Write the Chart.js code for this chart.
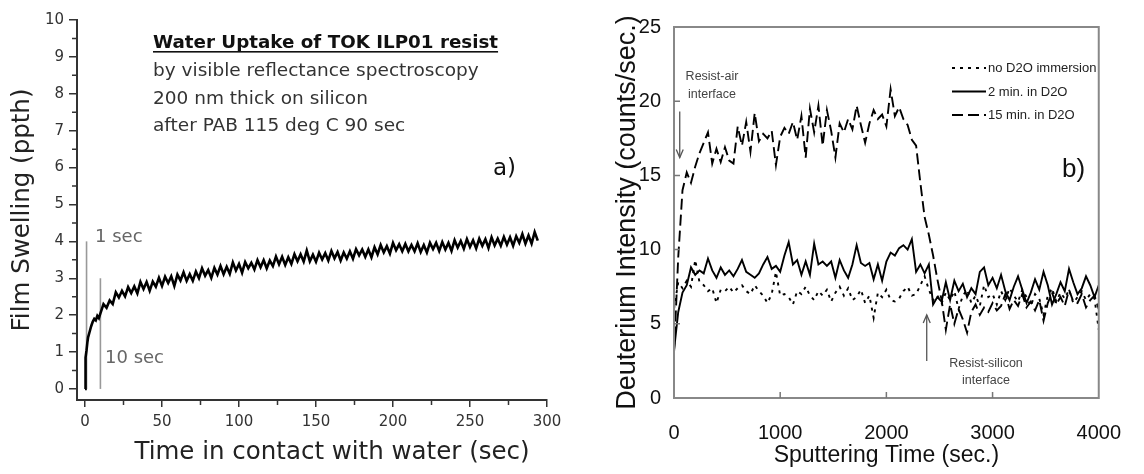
<!DOCTYPE html>
<html><head><meta charset="utf-8">
<script src="https://cdn.jsdelivr.net/npm/chart.js@4.4.1/dist/chart.umd.min.js"></script>
<style>
html,body{margin:0;padding:0;background:#fff;width:1144px;height:474px;overflow:hidden;}
#a{position:absolute;left:0;top:0;}
#b{position:absolute;left:580px;top:0;}
</style></head><body>
<canvas id="a" width="570" height="474"></canvas>
<canvas id="b" width="564" height="474"></canvas>
<script>
// ---------- panel a) data ----------
const swellTime = [0,0.2,0.5,1,1.5,2,3,4,5,6,7,8,9,10,
12,14,16,18,20,22,24,26,28,30,32,34,36,38,40,42,44,46,48,50,
52,54,56,58,60,62,64,66,68,70,72,74,76,78,80,82,84,86,88,90,
92,94,96,98,100,102,104,106,108,110,112,114,116,118,120,122,124,126,128,130,
132,134,136,138,140,142,144,146,148,150,152,154,156,158,160,162,164,166,168,170,
172,174,176,178,180,182,184,186,188,190,192,194,196,198,200,202,204,206,208,210,
212,214,216,218,220,222,224,226,228,230,232,234,236,238,240,242,244,246,248,250,
252,254,256,258,260,262,264,266,268,270,272,274,276,278,280,282,284,286,288,290,292,294];
const swellValue = [0.0,0.4,0.85,1.05,1.25,1.4,1.55,1.7,1.82,1.9,1.86,1.98,1.92,2.05,
2.30,2.20,2.40,2.30,2.62,2.48,2.66,2.51,2.76,2.60,
2.78,2.59,2.90,2.71,2.90,2.66,2.91,2.77,3.01,2.79,
3.04,2.87,3.05,2.79,3.10,2.94,3.16,2.93,3.11,2.93,
3.18,3.00,3.27,3.07,3.22,3.01,3.28,3.10,3.33,3.11,
3.31,3.12,3.43,3.21,3.39,3.15,3.44,3.27,3.42,3.24,
3.49,3.30,3.49,3.27,3.48,3.33,3.59,3.38,3.58,3.36,
3.57,3.39,3.65,3.46,3.65,3.45,3.75,3.46,3.64,3.45,
3.69,3.51,3.68,3.48,3.74,3.54,3.71,3.48,3.70,3.53,
3.73,3.53,3.79,3.62,3.78,3.58,3.78,3.57,3.84,3.65,
3.90,3.70,3.87,3.67,3.96,3.76,3.92,3.73,3.93,3.73,
3.90,3.73,3.95,3.71,3.90,3.70,3.96,3.79,3.96,3.74,
3.98,3.78,3.96,3.74,4.03,3.83,4.01,3.80,4.06,3.85,
4.03,3.81,4.07,3.88,4.06,3.82,4.11,3.89,4.07,3.88,
4.12,3.91,4.11,3.88,4.14,3.96,4.20,3.94,4.16,3.94,
4.25,4.02];
const markerTime = [1, 10];
const markerTop = [4, 3];
const markerLabels = ['1 sec', '10 sec'];
const swellXTicks = [0,50,100,150,200,250,300];
const swellXMinor = [25,75,125,175,225,275];
const swellYTicks = [0,1,2,3,4,5,6,7,8,9,10];
const swellYMinor = [0.5,1.5,2.5,3.5,4.5,5.5,6.5,7.5,8.5,9.5];
const swellTitle = 'Water Uptake of TOK ILP01 resist';
const swellNotes = ['by visible reflectance spectroscopy','200 nm thick on silicon','after PAB 115 deg C 90 sec'];

// ---------- panel b) data ----------
const sputterTime = [0,40,80,120,160,200,240,280,320,360,
400,440,480,520,560,600,640,680,720,760,
800,840,880,920,960,1000,1040,1080,1120,1160,
1200,1240,1280,1320,1360,1400,1440,1480,1520,1560,
1600,1640,1680,1720,1760,1800,1840,1880,1920,1960,
2000,2040,2080,2120,2160,2200,2240,2280,2320,2360,
2400,2440,2480,2520,2560,2600,2640,2680,2720,2760,
2800,2840,2880,2920,2960,3000,3040,3080,3120,3160,
3200,3240,3280,3320,3360,3400,3440,3480,3520,3560,
3600,3640,3680,3720,3760,3800,3840,3880,3920,3960,4000];
const noD2O = [6.0,7.8,7.4,7.9,7.5,9.3,7.8,7.6,7.2,7.4,
6.4,7.3,7.2,7.5,7.1,7.4,7.6,7.2,7.0,7.6,
7.2,6.9,6.4,7.0,8.5,6.9,7.0,6.8,6.3,7.2,
7.0,7.5,6.9,6.6,7.2,6.9,7.3,6.5,7.1,7.5,
6.9,7.4,6.6,6.8,7.3,6.4,6.9,5.4,7.1,6.8,
7.3,6.6,6.5,6.7,7.2,7.5,6.9,7.0,7.6,8.2,
7.3,6.6,6.9,6.4,7.1,6.6,7.2,6.0,6.9,7.3,
6.4,6.9,6.2,7.6,6.8,7.0,6.3,7.2,6.6,7.4,
6.9,6.5,7.3,6.8,6.2,7.0,6.7,5.6,6.9,7.4,
6.5,7.1,6.7,7.3,6.4,6.8,7.2,6.6,7.0,6.7,4.6];
const twoMin = [3.2,5.8,7.1,7.6,8.8,8.3,8.6,8.4,9.4,8.6,
8.1,8.8,8.3,8.6,8.2,8.7,9.3,8.5,8.3,8.1,
8.4,9.0,9.5,8.7,8.9,8.5,9.6,10.5,9.0,9.3,
8.3,9.2,8.3,10.4,9.0,9.2,8.9,9.2,8.1,9.3,
8.6,8.1,9.0,10.3,9.1,8.9,9.1,8.0,9.0,7.9,
9.2,9.8,9.6,10.1,10.3,10.0,10.7,8.5,9.0,8.4,
9.0,6.3,6.8,6.5,7.8,6.6,7.9,7.2,7.7,6.8,
7.4,7.0,8.5,8.8,7.6,8.1,7.4,8.3,7.2,6.6,
7.5,8.2,7.3,6.4,7.1,8.0,7.3,8.5,7.6,6.3,
7.0,7.8,7.2,8.7,7.8,7.0,7.4,8.2,7.6,6.8,7.6];
const fifteenMin = [3.0,9.5,14.0,15.2,14.5,15.6,16.5,17.2,17.9,15.8,
16.8,15.9,16.9,16.0,15.8,18.3,17.0,18.6,16.6,19.2,
17.3,17.8,17.5,18.0,15.7,17.6,18.2,17.8,18.6,17.4,
19.0,16.2,19.5,17.9,19.7,17.0,19.4,18.0,16.2,18.5,
17.9,18.8,18.1,19.7,18.4,17.2,18.5,19.4,18.8,19.1,
18.3,20.8,19.0,19.6,18.8,18.4,17.4,17.0,14.5,12.2,
11.0,9.6,8.0,6.6,4.6,6.3,5.0,6.0,5.3,4.4,
5.8,6.3,5.6,6.1,5.8,6.4,5.9,6.2,7.0,6.0,
6.6,6.2,7.0,6.1,6.5,5.9,6.6,5.2,6.4,7.1,
6.3,6.8,6.2,7.3,6.5,6.4,7.0,6.1,6.6,6.9,6.0];
const seriesNames = ['no D2O immersion','2 min. in D2O','15 min. in D2O'];
const seriesDash = [[3,5],[],[11,5]];
const sputterXTicks = [0,1000,2000,3000,4000];
const sputterYTicks = [0,5,10,15,20,25];
const sputterInnerX = [1000,2000,3000];
const sputterInnerY = [5,10,15,20];
const arrowAir = {t:54, from:19.3, to:16.2, lines:['Resist-air','interface']};
const arrowSi = {t:2380, from:2.5, to:5.6, lines:['Resist-silicon','interface']};

// ---------- panel a) ----------
const leftDecor = {
  id:'leftDecor',
  afterDraw(chart){
    const {ctx, scales:{x,y}} = chart;
    ctx.save();
    ctx.strokeStyle='#333'; ctx.lineWidth=1.5;
    ctx.beginPath();
    swellYMinor.forEach(v=>{const py=y.getPixelForValue(v); ctx.moveTo(x.left-5,py); ctx.lineTo(x.left,py);});
    swellXMinor.forEach(v=>{const px=x.getPixelForValue(v); ctx.moveTo(px,y.bottom); ctx.lineTo(px,y.bottom+5);});
    ctx.stroke();
    ctx.fillStyle='#222'; ctx.textAlign='center'; ctx.textBaseline='alphabetic';
    ctx.font='24.5px "DejaVu Sans"';
    ctx.fillText('Time in contact with water (sec)', 332, 459);
    ctx.textAlign='left';
    ctx.fillStyle='#111';
    ctx.font='bold 18.3px "DejaVu Sans"';
    ctx.fillText(swellTitle, 153, 48);
    const w = ctx.measureText(swellTitle).width;
    ctx.fillRect(153, 51, w, 1.6);
    ctx.fillStyle='#333';
    ctx.font='18.5px "DejaVu Sans"';
    swellNotes.forEach((s,i)=>ctx.fillText(s,153,76+i*27.5));
    ctx.fillStyle='#111';
    ctx.font='23px "DejaVu Sans"';
    ctx.fillText('a)', 493, 175);
    ctx.fillStyle='#666';
    ctx.font='18px "DejaVu Sans"';
    ctx.fillText(markerLabels[0], 95, 242);
    ctx.fillText(markerLabels[1], 105, 363);
    ctx.restore();
  }
};
const swellPts = swellTime.map((t,i)=>({x:t,y:swellValue[i]}));
const markerSets = markerTime.map((t,i)=>({
  data:[{x:t,y:0},{x:t,y:markerTop[i]}], borderColor:'#999', borderWidth:1.6, pointRadius:0
}));
new Chart(document.getElementById('a'),{
  type:'line',
  data:{datasets:[
    {data:swellPts, borderColor:'#000', borderWidth:2.6, pointRadius:0, tension:0},
    ...markerSets
  ]},
  options:{
    responsive:false, animation:false, devicePixelRatio:1,
    layout:{padding:{left:0,right:23,top:20,bottom:0}},
    plugins:{legend:{display:false},tooltip:{enabled:false}},
    scales:{
      x:{type:'linear',min:-5.2,max:300,
        afterBuildTicks:s=>{s.ticks=swellXTicks.map(v=>({value:v}));},
        afterFit:s=>{s.height=74;},
        grid:{drawOnChartArea:false,drawTicks:true,tickLength:7,color:'#333',lineWidth:1.5},
        border:{color:'#333',width:2},
        ticks:{font:{family:'DejaVu Sans',size:15},color:'#333',padding:6,maxRotation:0,callback:v=>String(v)},
        title:{display:false}
      },
      y:{type:'linear',min:-0.3,max:10,
        afterBuildTicks:s=>{s.ticks=swellYTicks.map(v=>({value:v}));},
        afterFit:s=>{s.width=77;},
        grid:{drawOnChartArea:false,drawTicks:true,tickLength:8,color:'#333',lineWidth:1.5},
        border:{color:'#333',width:2},
        ticks:{font:{family:'DejaVu Sans',size:15},color:'#333',padding:5,callback:v=>String(v)},
        title:{display:true,text:'Film Swelling (ppth)',font:{family:'DejaVu Sans',size:24.5},color:'#222',padding:{top:8,bottom:0}}
      }
    }
  },
  plugins:[leftDecor]
});

// ---------- panel b) ----------
function arrow(ctx,x,y1,y2){
  ctx.beginPath(); ctx.moveTo(x,y1); ctx.lineTo(x,y2); ctx.stroke();
  const d = y2>y1 ? -1 : 1;
  ctx.beginPath(); ctx.moveTo(x-3.5,y2+d*8); ctx.lineTo(x,y2); ctx.lineTo(x+3.5,y2+d*8); ctx.stroke();
}
const rightDecor = {
  id:'rightDecor',
  afterDraw(chart){
    const {ctx, chartArea:a, scales:{x,y}} = chart;
    ctx.save();
    ctx.strokeStyle='#888'; ctx.lineWidth=2;
    ctx.strokeRect(a.left,a.top,a.right-a.left,a.bottom-a.top);
    ctx.lineWidth=1.5; ctx.strokeStyle='#777';
    ctx.beginPath();
    sputterInnerX.forEach(v=>{const px=x.getPixelForValue(v); ctx.moveTo(px,a.bottom); ctx.lineTo(px,a.bottom-6);});
    sputterInnerY.forEach(v=>{const py=y.getPixelForValue(v); ctx.moveTo(a.left,py); ctx.lineTo(a.left+6,py);});
    ctx.stroke();
    // legend
    ctx.strokeStyle='#000'; ctx.lineWidth=2;
    ctx.fillStyle='#222'; ctx.font='13px "Liberation Sans"'; ctx.textBaseline='middle'; ctx.textAlign='left';
    const rows=[68,91.5,115];
    seriesNames.forEach((n,i)=>{
      ctx.setLineDash(seriesDash[i]);
      ctx.beginPath(); ctx.moveTo(372,rows[i]); ctx.lineTo(406,rows[i]); ctx.stroke();
      ctx.setLineDash([]);
      ctx.fillText(n,408,rows[i]+0.5);
    });
    ctx.textBaseline='alphabetic';
    ctx.fillStyle='#111'; ctx.font='26px "Liberation Sans"';
    ctx.fillText('b)',482,177);
    // arrows + notes
    ctx.strokeStyle='#555'; ctx.lineWidth=1.3;
    arrow(ctx,x.getPixelForValue(arrowAir.t),y.getPixelForValue(arrowAir.from),y.getPixelForValue(arrowAir.to));
    arrow(ctx,x.getPixelForValue(arrowSi.t),y.getPixelForValue(arrowSi.from),y.getPixelForValue(arrowSi.to));
    ctx.fillStyle='#444'; ctx.font='12.5px "Liberation Sans"'; ctx.textAlign='center';
    ctx.fillText(arrowAir.lines[0],132,80); ctx.fillText(arrowAir.lines[1],132,97.5);
    ctx.fillText(arrowSi.lines[0],406,367); ctx.fillText(arrowSi.lines[1],406,384);
    ctx.restore();
  }
};
const mk = (vals)=>sputterTime.map((t,i)=>({x:t,y:vals[i]}));
const rightSeries=[noD2O,twoMin,fifteenMin];
new Chart(document.getElementById('b'),{
  type:'line',
  data:{datasets:rightSeries.map((v,i)=>({
    label:seriesNames[i], data:mk(v), borderColor:'#000', borderWidth:1.9, borderDash:seriesDash[i],
    pointRadius:0, tension:0
  }))},
  options:{
    responsive:false, animation:false, devicePixelRatio:1,
    layout:{padding:{left:0,right:25,top:27,bottom:0}},
    plugins:{legend:{display:false},tooltip:{enabled:false}},
    scales:{
      x:{type:'linear',min:0,max:4000,
        afterBuildTicks:s=>{s.ticks=sputterXTicks.map(v=>({value:v}));},
        afterFit:s=>{s.height=76;},
        grid:{display:false,drawTicks:false},
        border:{display:false},
        ticks:{font:{family:'Liberation Sans',size:20},color:'#111',padding:23,maxRotation:0,callback:v=>String(v)},
        title:{display:true,text:'Sputtering Time (sec.)',font:{family:'Liberation Sans',size:23},color:'#111',padding:{top:0,bottom:5}}
      },
      y:{type:'linear',min:0,max:25,
        afterBuildTicks:s=>{s.ticks=sputterYTicks.map(v=>({value:v}));},
        afterFit:s=>{s.width=94;},
        grid:{display:false,drawTicks:false},
        border:{display:false},
        ticks:{font:{family:'Liberation Sans',size:20},color:'#111',padding:13,callback:v=>String(v)},
        title:{display:true,text:'Deuterium Intensity (counts/sec.)',font:{family:'Liberation Sans',size:27},color:'#111',padding:{top:31,bottom:0}}
      }
    }
  },
  plugins:[rightDecor]
});
</script>
</body></html>
